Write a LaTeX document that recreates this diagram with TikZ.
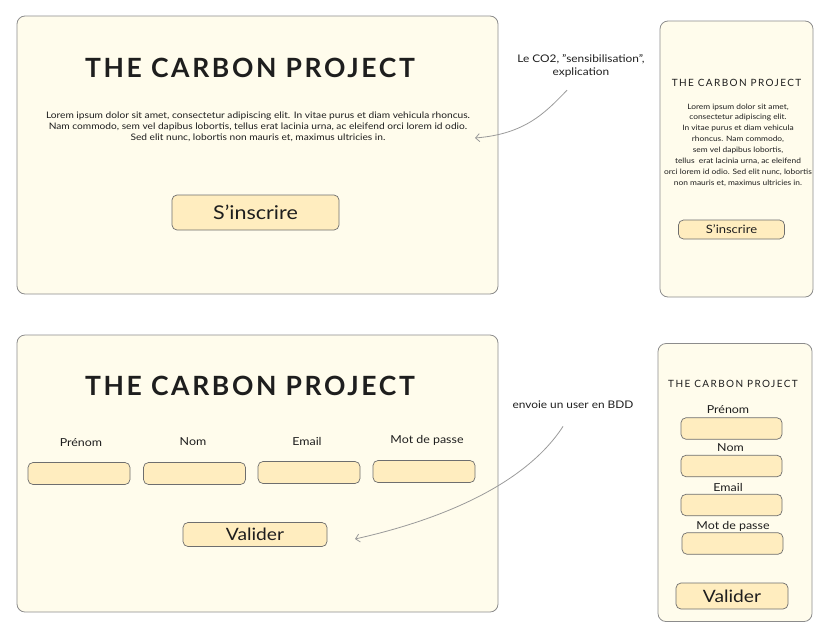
\documentclass[tikz,border=0pt]{standalone}
\usepackage{fontspec}
\setmainfont[FakeStretch=1.13]{Lato}
\newfontfamily\titlefont[LetterSpace=10]{Lato}
\newfontfamily\smalltitlefont[LetterSpace=14]{Lato}
\usetikzlibrary{arrows.meta}

\definecolor{paper}{HTML}{FFFCEC}
\definecolor{frame}{HTML}{8C8C8C}
\definecolor{btnfill}{HTML}{FFEDBF}
\definecolor{btnline}{HTML}{6E6E6E}
\definecolor{ink}{HTML}{1E1E1E}
\definecolor{arrowgray}{HTML}{9A9A9A}

\begin{document}
\begin{tikzpicture}[x=1pt,y=-1pt,
	screen/.style={draw=frame,fill=paper,rounded corners=8pt,line width=0.8pt,inner sep=0pt},
	btn/.style={draw=btnline,fill=btnfill,rounded corners=5pt,line width=0.7pt,inner sep=0pt,text=ink},
	field/.style={btn,minimum width=102pt,minimum height=22pt},
	label/.style={text=ink,font=\fontsize{11}{13}\selectfont},
	note/.style={align=center,text=ink,font=\fontsize{10.5}{13.5}\selectfont},
	link/.style={draw=arrowgray,line width=0.8pt,-{Straight Barb[length=4pt,width=8pt]}}]
	\useasboundingbox (0,0) rectangle (834,632);
	% accueil, desktop
	\node[screen,minimum width=481pt,minimum height=278pt] (home) at (257.5,155) {};
	\node[text=ink,font=\titlefont\bfseries\fontsize{26.5}{30}\selectfont] (homeTitle) at (250,68) {THE CARBON PROJECT};
	\node[align=center,text=ink,font=\fontsize{9}{10.8}\selectfont] (homeText) at (258,127)
		{Lorem ipsum dolor sit amet, consectetur adipiscing elit. In vitae purus et diam vehicula rhoncus.\\
		Nam commodo, sem vel dapibus lobortis, tellus erat lacinia urna, ac eleifend orci lorem id odio.\\
		Sed elit nunc, lobortis non mauris et, maximus ultricies in.};
	\node[btn,minimum width=167pt,minimum height=35pt,font=\fontsize{19}{22}\selectfont] (homeBtn) at (255.5,212.5) {S'inscrire};
	% accueil, mobile
	\node[screen,minimum width=153pt,minimum height=276pt] (homeM) at (736.5,159) {};
	\node[text=ink,font=\smalltitlefont\fontsize{10}{12}\selectfont] (homeMTitle) at (736.5,82.5) {THE CARBON PROJECT};
	\node[align=center,text=ink,font=\fontsize{7.4}{10.9}\selectfont] (homeMText) at (738,145)
		{Lorem ipsum dolor sit amet,\\
		consectetur adipiscing elit.\\
		In vitae purus et diam vehicula\\
		rhoncus. Nam commodo,\\
		sem vel dapibus lobortis,\\
		tellus\ \ erat lacinia urna, ac eleifend\\
		orci lorem id odio. Sed elit nunc, lobortis\\
		non mauris et, maximus ultricies in.};
	\node[btn,minimum width=106pt,minimum height=19pt,font=\fontsize{11.5}{13}\selectfont] (homeMBtn) at (731.5,229.5) {S'inscrire};
	% inscription, desktop
	\node[screen,minimum width=481pt,minimum height=277pt] (signup) at (257.5,473.5) {};
	\node[text=ink,font=\titlefont\bfseries\fontsize{26.5}{30}\selectfont] (signupTitle) at (250,386) {THE CARBON PROJECT};
	\node[label] (lPrenom) at (81,443) {Prénom};
	\node[label] (lNom) at (193,442) {Nom};
	\node[label] (lEmail) at (307,441) {Email};
	\node[label] (lMdp) at (427,440) {Mot de passe};
	\node[field] (fPrenom) at (79,473.5) {};
	\node[field] (fNom) at (194.5,473.5) {};
	\node[field] (fEmail) at (309,472.5) {};
	\node[field] (fMdp) at (424,471.5) {};
	\node[btn,minimum width=144pt,minimum height=24pt,font=\fontsize{17}{20}\selectfont] (signupBtn) at (255,534.5) {Valider};
	% inscription, mobile
	\node[screen,minimum width=154pt,minimum height=278pt] (signupM) at (735,482.5) {};
	\node[text=ink,font=\smalltitlefont\fontsize{10}{12}\selectfont] (signupMTitle) at (733,384) {THE CARBON PROJECT};
	\node[label] (mPrenom) at (728,410) {Prénom};
	\node[field,minimum width=101pt,minimum height=21.5pt] (mfPrenom) at (731.5,428.5) {};
	\node[label] (mNom) at (730.5,448) {Nom};
	\node[field,minimum width=101pt,minimum height=21.5pt] (mfNom) at (731.5,466) {};
	\node[label] (mEmail) at (728,487) {Email};
	\node[field,minimum width=101pt,minimum height=21.5pt] (mfEmail) at (731.5,505) {};
	\node[label] (mMdp) at (733,526) {Mot de passe};
	\node[field,minimum width=101pt,minimum height=21.5pt] (mfMdp) at (732.5,543.5) {};
	\node[btn,minimum width=112pt,minimum height=26pt,font=\fontsize{17}{20}\selectfont] (signupMBtn) at (732,596) {Valider};
	% annotations
	\node[note] (introNote) at (581,66) {Le CO2, "sensibilisation",\\explication};
	\coordinate (introTip) at (475,138);
	\draw[link] ([shift={(-14pt,-9pt)}]introNote.south) .. controls (545,113) and (525,134) .. (introTip);
	\node[note] (bddNote) at (573,405) {envoie un user en BDD};
	\coordinate (bddTip) at (355,539);
	\draw[link] ([shift={(-10pt,-14pt)}]bddNote.south) .. controls (525,485) and (440,520) .. (bddTip);
\end{tikzpicture}
\end{document}
